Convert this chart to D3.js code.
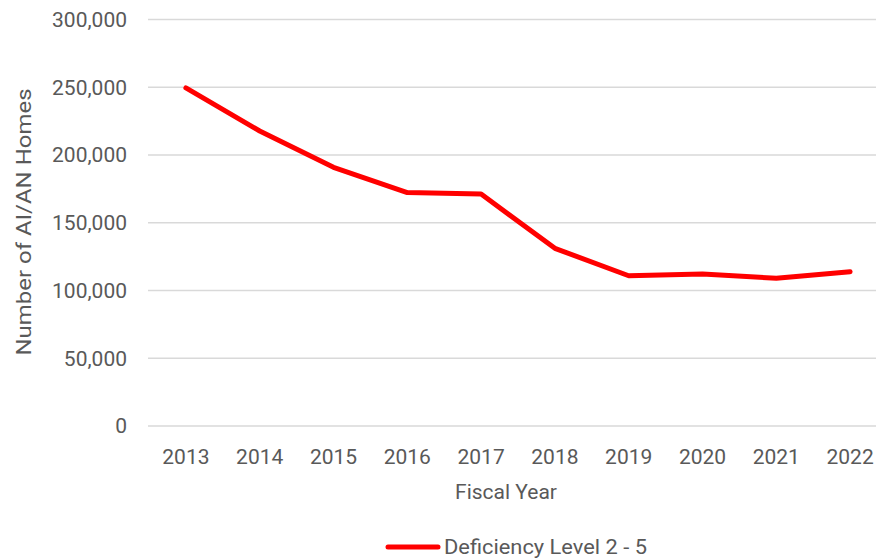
<!DOCTYPE html>
<html><head><meta charset="utf-8">
<script src="https://cdn.jsdelivr.net/npm/d3@7"></script>
<style>body{margin:0;background:#fff}svg{display:block}text{font-family:Roboto,"Open Sans",sans-serif;fill:#595959}</style>
</head><body><svg id="c" width="876" height="559"></svg>
<script>
const years = ["2013","2014","2015","2016","2017","2018","2019","2020","2021","2022"];
const deficiency = [249500,217700,190900,172300,171200,131100,110900,112200,109000,113900];
const yTicks = [0,50000,100000,150000,200000,250000,300000];
const seriesName = "Deficiency Level 2 - 5";

const svg = d3.select("#c");
const x = d3.scaleBand().domain(years).range([149,887]);
const y = d3.scaleLinear().domain([0,300000]).range([426,19.5]);
const fs = 21;

// gridlines
svg.append("g").selectAll("line").data(yTicks).join("line")
  .attr("x1",148).attr("x2",876).attr("y1",d=>y(d)).attr("y2",d=>y(d))
  .attr("stroke","#d9d9d9").attr("stroke-width",1.5);

// y axis labels
const fmt = d3.format(",");
svg.append("g").selectAll("text").data(yTicks).join("text")
  .attr("x",127).attr("y",d=>y(d)).attr("dy","0.35em").attr("text-anchor","end")
  .attr("font-size",fs).text(d=>fmt(d));

// x labels
svg.append("g").selectAll("text").data(years).join("text")
  .attr("x",d=>x(d)+x.bandwidth()/2).attr("y",457).attr("dy","0.35em").attr("text-anchor","middle")
  .attr("font-size",fs).text(d=>d);

// titles
svg.append("text").attr("x",506).attr("y",492).attr("dy","0.35em").attr("text-anchor","middle")
  .attr("font-size",fs).text("Fiscal Year");
svg.append("text").attr("transform","translate(24,222) rotate(-90)").attr("dy","0.35em")
  .attr("text-anchor","middle").attr("font-size",fs)
  .attr("textLength",267).attr("lengthAdjust","spacingAndGlyphs").text("Number of AI/AN Homes");

// line
const line = d3.line().x((d,i)=>x(years[i])+x.bandwidth()/2).y(d=>y(d));
svg.append("path").datum(deficiency).attr("d",line).attr("fill","none")
  .attr("stroke","#ff0000").attr("stroke-width",5).attr("stroke-linejoin","round").attr("stroke-linecap","round");

// legend
const lg = svg.append("g");
lg.append("line").attr("x1",388).attr("x2",438).attr("y1",547).attr("y2",547)
  .attr("stroke","#ff0000").attr("stroke-width",5).attr("stroke-linecap","round");
lg.append("text").attr("x",444).attr("y",547).attr("dy","0.35em").attr("font-size",fs)
  .attr("textLength",203).attr("lengthAdjust","spacingAndGlyphs").text(seriesName);
</script></body></html>
